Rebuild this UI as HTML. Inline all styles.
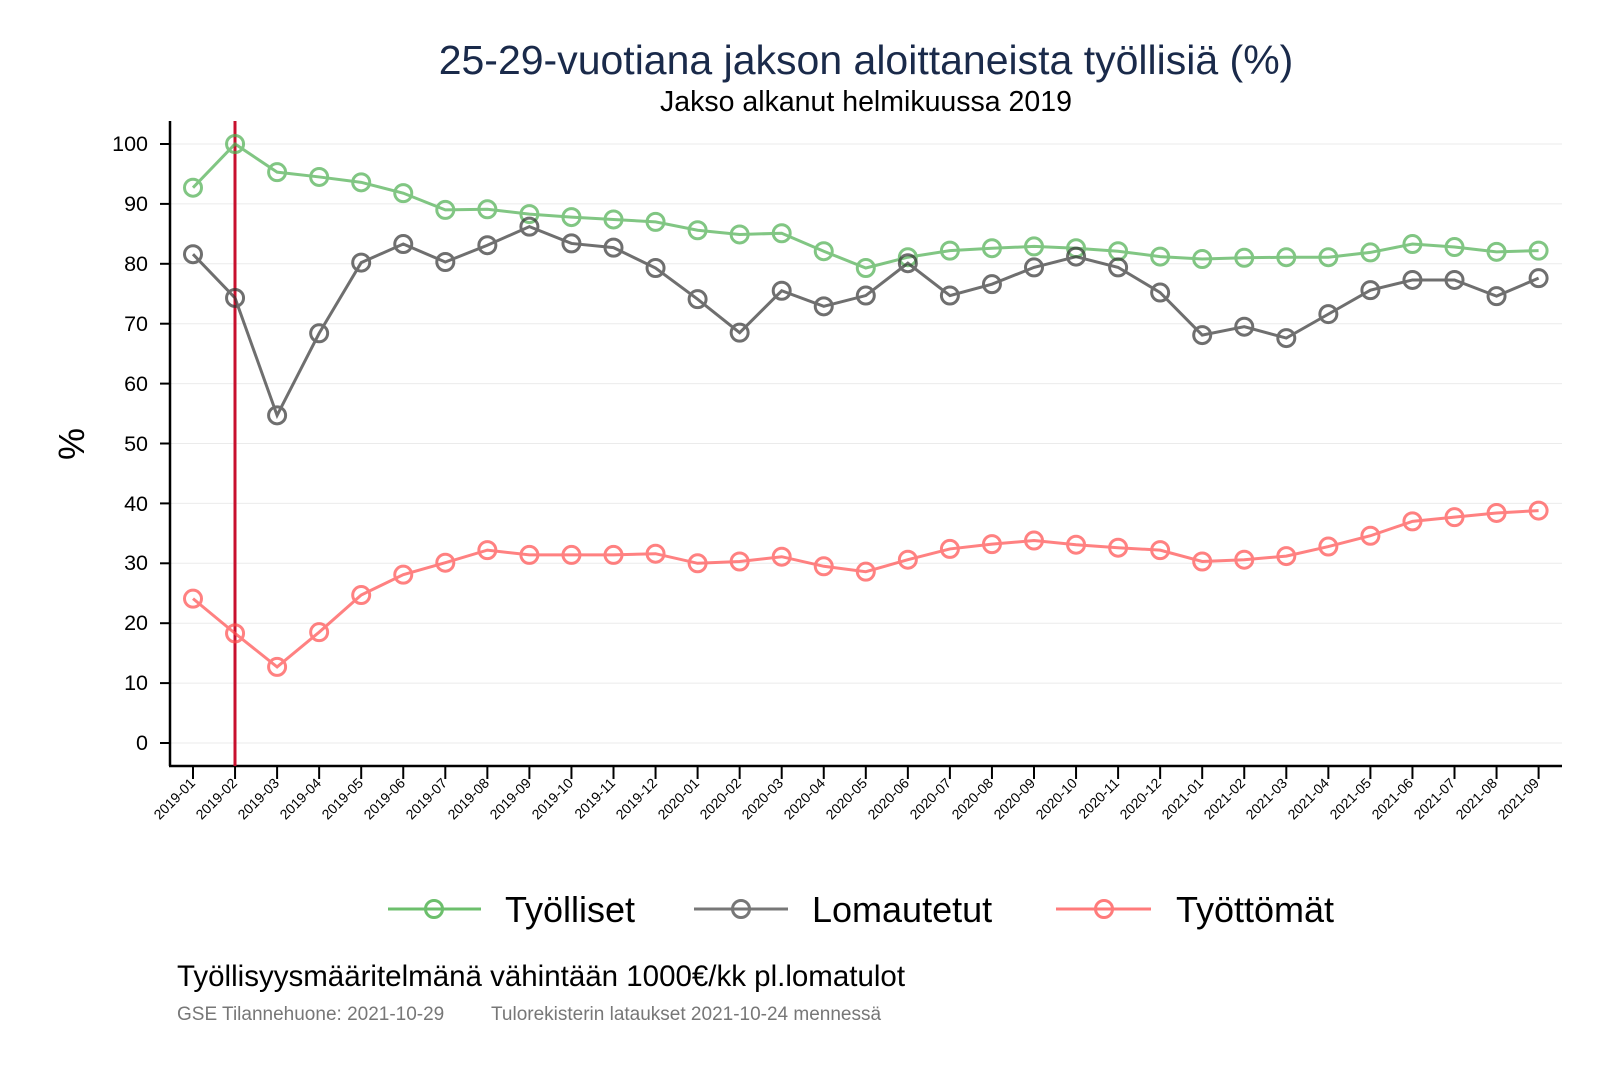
<!DOCTYPE html>
<html><head><meta charset="utf-8"><style>
html,body{margin:0;padding:0;background:#fff;}
svg{display:block;font-family:"Liberation Sans",Arial,sans-serif;}
</style></head><body>
<svg id="s" width="1600" height="1067" viewBox="0 0 1600 1067" xmlns="http://www.w3.org/2000/svg">
<rect width="1600" height="1067" fill="#fff"/>
<text x="866" y="74" font-size="41" text-anchor="middle" fill="#1a2a4a">25-29-vuotiana jakson aloittaneista työllisiä (%)</text>
<text x="866" y="111" font-size="28.5" text-anchor="middle" fill="#000">Jakso alkanut helmikuussa 2019</text>
<text transform="translate(84,444) rotate(-90)" font-size="36" text-anchor="middle" fill="#000">%</text>
<g id="grid" stroke="#ebebeb" stroke-width="1"></g>
<g font-size="21.5" text-anchor="end" fill="#000">
<text x="148" y="151">100</text><text x="148" y="211">90</text><text x="148" y="271">80</text><text x="148" y="331">70</text><text x="148" y="391">60</text><text x="148" y="451">50</text><text x="148" y="511">40</text><text x="148" y="570">30</text><text x="148" y="630">20</text><text x="148" y="690">10</text><text x="148" y="750">0</text>
</g>
<g id="ticks" stroke="#000" stroke-width="2"></g>
<line x1="170" y1="121" x2="170" y2="766" stroke="#000" stroke-width="2.5"/>
<line x1="169" y1="766" x2="1562" y2="766" stroke="#000" stroke-width="2.5"/>
<line x1="235" y1="121" x2="235" y2="766" stroke="#c8102e" stroke-width="3"/>
<g id="series"></g>
<g stroke-width="3" fill="none">
<line x1="388" y1="909" x2="481" y2="909" stroke="#6cbf6c"/><circle cx="434" cy="909" r="8.5" stroke="#6cbf6c"/>
<line x1="694" y1="909" x2="788" y2="909" stroke="#777"/><circle cx="741" cy="909" r="8.5" stroke="#777"/>
<line x1="1056" y1="909" x2="1151" y2="909" stroke="#ff7b7b"/><circle cx="1104" cy="909" r="8.5" stroke="#ff7b7b"/>
</g>
<g font-size="36" fill="#000">
<text x="505" y="922">Työlliset</text><text x="812" y="922">Lomautetut</text><text x="1176" y="922">Työttömät</text>
</g>
<text x="177" y="986" font-size="29.5" fill="#000">Työllisyysmääritelmänä vähintään 1000€/kk pl.lomatulot</text>
<text x="177" y="1020" font-size="19" fill="#777">GSE Tilannehuone: 2021-10-29</text>
<text x="491" y="1020" font-size="19" fill="#777">Tulorekisterin lataukset 2021-10-24 mennessä</text>
<g font-size="14" text-anchor="end" fill="#000">
<text transform="translate(196,784) rotate(-45)">2019-01</text><text transform="translate(238,784) rotate(-45)">2019-02</text><text transform="translate(280,784) rotate(-45)">2019-03</text><text transform="translate(322,784) rotate(-45)">2019-04</text><text transform="translate(364,784) rotate(-45)">2019-05</text><text transform="translate(406,784) rotate(-45)">2019-06</text><text transform="translate(448,784) rotate(-45)">2019-07</text><text transform="translate(490,784) rotate(-45)">2019-08</text><text transform="translate(532,784) rotate(-45)">2019-09</text><text transform="translate(574,784) rotate(-45)">2019-10</text><text transform="translate(616,784) rotate(-45)">2019-11</text><text transform="translate(658,784) rotate(-45)">2019-12</text><text transform="translate(700,784) rotate(-45)">2020-01</text><text transform="translate(742,784) rotate(-45)">2020-02</text><text transform="translate(784,784) rotate(-45)">2020-03</text><text transform="translate(826,784) rotate(-45)">2020-04</text><text transform="translate(868,784) rotate(-45)">2020-05</text><text transform="translate(910,784) rotate(-45)">2020-06</text><text transform="translate(952,784) rotate(-45)">2020-07</text><text transform="translate(994,784) rotate(-45)">2020-08</text><text transform="translate(1036,784) rotate(-45)">2020-09</text><text transform="translate(1078,784) rotate(-45)">2020-10</text><text transform="translate(1120,784) rotate(-45)">2020-11</text><text transform="translate(1162,784) rotate(-45)">2020-12</text><text transform="translate(1204,784) rotate(-45)">2021-01</text><text transform="translate(1246,784) rotate(-45)">2021-02</text><text transform="translate(1288,784) rotate(-45)">2021-03</text><text transform="translate(1330,784) rotate(-45)">2021-04</text><text transform="translate(1372,784) rotate(-45)">2021-05</text><text transform="translate(1414,784) rotate(-45)">2021-06</text><text transform="translate(1456,784) rotate(-45)">2021-07</text><text transform="translate(1498,784) rotate(-45)">2021-08</text><text transform="translate(1540,784) rotate(-45)">2021-09</text>
</g>
</svg>
<script>
var NS="http://www.w3.org/2000/svg";
function X(i){return 193+42.05*i;}
function Y(v){return 743-5.99*v;}
function el(t,a,p){var e=document.createElementNS(NS,t);for(var k in a)e.setAttribute(k,a[k]);p.appendChild(e);return e;}
var g=document.getElementById("grid"),tk=document.getElementById("ticks"),sr=document.getElementById("series");
for(var v=0;v<=100;v+=10){var y=Y(v);el("line",{x1:171,x2:1562,y1:y,y2:y},g);el("line",{x1:160,x2:170,y1:y,y2:y},tk);}
for(var i=0;i<33;i++){el("line",{x1:X(i),x2:X(i),y1:766,y2:779},tk);}
var G=[92.7,100,95.3,94.5,93.6,91.8,89,89.1,88.3,87.8,87.4,87,85.6,84.9,85.1,82.1,79.3,81.1,82.2,82.6,82.9,82.6,82.1,81.2,80.8,81,81.1,81.1,81.9,83.3,82.8,82,82.2];
var K=[81.6,74.3,54.7,68.4,80.2,83.3,80.3,83.1,86.2,83.4,82.7,79.3,74.1,68.5,75.5,72.9,74.7,80.1,74.7,76.6,79.4,81.2,79.4,75.2,68.1,69.5,67.6,71.6,75.6,77.3,77.3,74.6,77.6];
var R=[24.1,18.3,12.7,18.5,24.7,28.1,30.1,32.2,31.4,31.4,31.4,31.6,30,30.3,31.1,29.5,28.6,30.6,32.4,33.2,33.8,33.1,32.6,32.2,30.3,30.6,31.2,32.8,34.6,37,37.7,38.4,38.8];
[[G,"#4caf50"],[K,"#333"],[R,"#ff4d4d"]].forEach(function(s){
 var grp=el("g",{opacity:0.7,fill:"none",stroke:s[1],"stroke-width":3},sr);
 el("polyline",{points:s[0].map(function(v,i){return X(i)+","+Y(v)}).join(" ")},grp);
 s[0].forEach(function(v,i){el("circle",{cx:X(i),cy:Y(v),r:8.5},grp);});
});
</script>
</body></html>
